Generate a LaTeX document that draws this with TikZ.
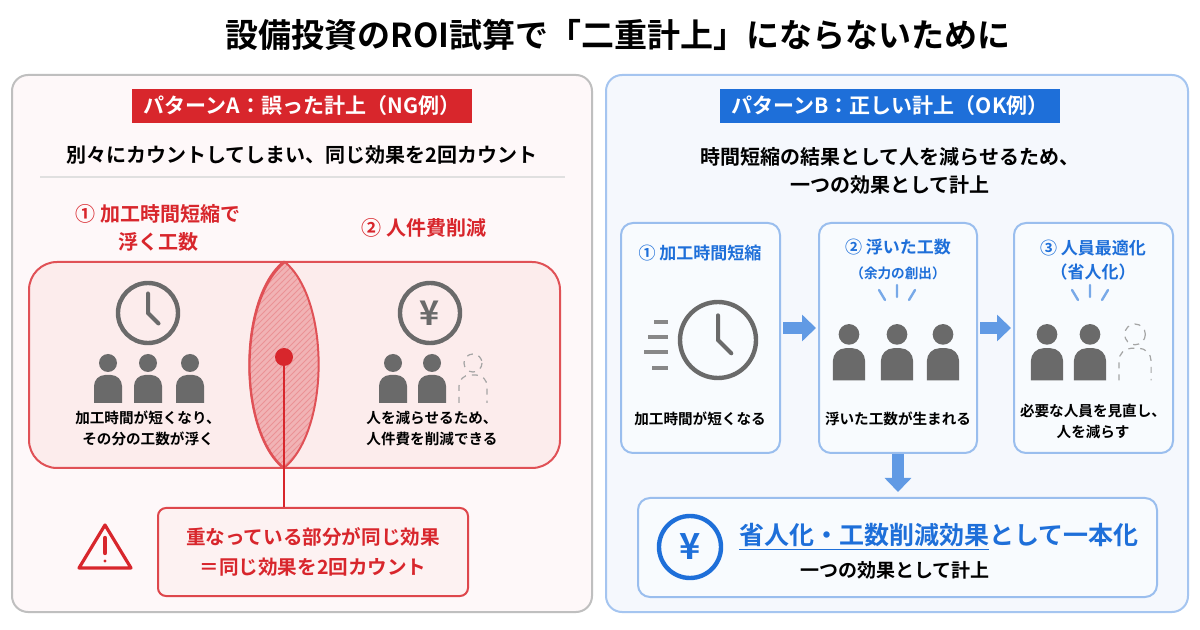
\documentclass[tikz,border=0pt]{standalone}
\usepackage{fontspec}
\setmainfont{Noto Sans CJK JP}[BoldFont={Noto Sans CJK JP Bold}]
\usetikzlibrary{positioning,patterns,arrows.meta}
\definecolor{ngred}{HTML}{D8262C}
\definecolor{ngpink}{HTML}{FCECEC}
\definecolor{okblue}{HTML}{1E6FD9}
\definecolor{okpale}{HTML}{EEF4FC}
\definecolor{icongray}{HTML}{6A6A6A}
\tikzset{
  panel/.style = {draw, rounded corners=8, line width=1},
  badge/.style = {text=white, font=\bfseries\fontsize{10.5}{12}\selectfont, minimum height=16pt, inner xsep=6pt},
  txt/.style = {font=\bfseries\fontsize{7.3}{10.5}\selectfont, align=center},
  head/.style = {font=\bfseries\fontsize{10}{14}\selectfont, align=center},
  stephead/.style = {font=\bfseries\fontsize{8.5}{12}\selectfont, align=center, text=okblue},
  stepbox/.style = {panel, draw=okblue!45, fill=white!60!okpale, rounded corners=6},
  flow/.style = {line width=6pt, okblue!70, -{Triangle[length=7pt, width=13pt]}},
  pics/person/.style = {code={
    \fill[icongray] (0,-24) circle (9);
    \fill[icongray] (-14,16) -- (-14,-1) arc[start angle=180, end angle=270, radius=11]
      -- (3,-12) arc[start angle=270, end angle=360, radius=11] -- (14,16) -- cycle;
  }},
  pics/ghost/.style = {code={
    \draw[icongray!60, dashed, line width=.6] (0,-24) circle (9);
    \draw[icongray!60, dashed, line width=.6] (-14,16) -- (-14,-1) arc[start angle=180, end angle=270, radius=11]
      -- (3,-12) arc[start angle=270, end angle=360, radius=11] -- (14,16);
  }},
  pics/clock/.style = {code={
    \draw[icongray, line width=2.2] (0,0) circle (#1);
    \draw[icongray, line width=2, line cap=round] (0,-.65*#1) -- (0,0) -- (.35*#1,.35*#1);
  }},
  pics/rays/.style = {code={
    \draw[okblue!60, line width=1.2, line cap=round] (0,-8) -- (0,-20) (-12,-5) -- (-18,-15) (12,-5) -- (18,-15);
  }}
}
\begin{document}
\begin{tikzpicture}[x=0.5pt, y=-0.5pt]
\useasboundingbox (0,0) rectangle (1200,630);
\fill[white] (0,0) rectangle (1200,630);

\node[font=\bfseries\fontsize{16.5}{18}\selectfont] (title) at (618,35) {設備投資のROI試算で「二重計上」にならないために};

% left panel
\draw[panel, draw=black!25, fill=ngred!3] (12,75) rectangle (592,612);
\node[badge, fill=ngred] (badgeA) at (302,106) {パターンA：誤った計上（NG例）};
\node[head] (subA) at (302,155) {別々にカウントしてしまい、同じ効果を2回カウント};
\draw[black!12, line width=.8] (40,177) -- (565,177);
\node[head, text=ngred] (labA) at (158,228) {① 加工時間短縮で\\浮く工数};
\node[head, text=ngred] (labB) at (424,228) {② 人件費削減};

\draw[ngred!80, line width=1, fill=ngpink, rounded corners=14] (285,262) -- (29,262) -- (29,468) -- (285,468);
\draw[ngred!80, line width=1, fill=ngpink] (285,262) .. controls (330,300) and (330,430) .. (285,468);
\draw[ngred!80, line width=1, fill=ngpink, rounded corners=14] (283,262) -- (560,262) -- (560,468) -- (283,468);
\draw[ngred!80, line width=1, fill=ngpink] (283,262) .. controls (238,300) and (238,430) .. (283,468);
\fill[ngred!35] (285,262) .. controls (330,300) and (330,430) .. (284,468) .. controls (238,430) and (238,300) .. (285,262);
\fill[pattern=north east lines, pattern color=ngred!50] (285,262) .. controls (330,300) and (330,430) .. (284,468) .. controls (238,430) and (238,300) .. (285,262);
\draw[ngred!80, line width=1] (285,262) .. controls (330,300) and (330,430) .. (284,468) .. controls (238,430) and (238,300) .. (285,262);

\pic at (148,313) {clock=30};
\foreach \x in {108,148,190} \pic at (\x,387) {person};
\node[txt] (txtA) at (148,428) {加工時間が短くなり、\\その分の工数が浮く};

\draw[icongray, line width=2.2] (430,313) circle (30);
\node[text=icongray, font=\bfseries\fontsize{17}{17}\selectfont] (yenA) at (430,313) {¥};
\foreach \x in {393,432} \pic at (\x,387) {person};
\pic at (473,387) {ghost};
\node[txt] (txtB) at (432,428) {人を減らせるため、\\人件費を削減できる};

\node[circle, fill=ngred, inner sep=0, minimum size=9pt] (dot) at (284,357) {};
\node[draw=ngred!85, fill=ngpink!70, line width=1, rounded corners=4, minimum width=155pt, minimum height=44pt,
      font=\bfseries\fontsize{9.8}{15}\selectfont, text=ngred, align=center] (callout) at (313,552)
      {重なっている部分が同じ効果\\＝同じ効果を2回カウント};
\draw[ngred, line width=1] (dot) -- (dot |- callout.north);
\draw[ngred, line width=1.6, line join=round] (105,525) -- (131,568) -- (79,568) -- cycle;
\draw[ngred, line width=2.2, line cap=round] (105,538) -- (105,553);
\fill[ngred] (105,561) circle (1.6);

% right panel
\draw[panel, draw=okblue!40, fill=okpale!60] (606,75) rectangle (1188,612);
\node[badge, fill=okblue] (badgeB) at (890,106) {パターンB：正しい計上（OK例）};
\node[head] (subB) at (890,171) {時間短縮の結果として人を減らせるため、\\一つの効果として計上};

\node[stepbox, minimum width=79.5pt, minimum height=115pt] (s1) at (700.5,338) {};
\node[stepbox, minimum width=79pt, minimum height=115pt] (s2) at (898,338) {};
\node[stepbox, minimum width=79.5pt, minimum height=115pt] (s3) at (1093.5,338) {};
\draw[flow] ([shift={(2,-10)}]s1.east) -- ([shift={(-2,-10)}]s2.west);
\draw[flow] ([shift={(2,-10)}]s2.east) -- ([shift={(-2,-10)}]s3.west);

\node[stephead] (h1) at (700,253) {① 加工時間短縮};
\node[stephead] (h2) at (898,247) {② 浮いた工数};
\node[stephead, font=\bfseries\fontsize{6.8}{8}\selectfont] (h2b) at (898,273) {（余力の創出）};
\node[stephead] (h3) at (1093,260) {③ 人員最適化\\（省人化）};

\pic at (718,340) {clock=38};
\foreach \y/\l in {322/14,337/20,352/24,368/16} \draw[icongray!80, line width=1.6] (668-\l,\y) -- (668,\y);
\node[txt] (t1) at (700,419) {加工時間が短くなる};

\foreach \x in {849,897,943} \pic[scale=1.15] at (\x,362) {person};
\pic at (897,305) {rays};
\node[txt] (t2) at (898,419) {浮いた工数が生まれる};

\foreach \x in {1047,1090} \pic[scale=1.15] at (\x,362) {person};
\pic[scale=1.15] at (1135,362) {ghost};
\pic at (1090,305) {rays};
\node[txt] (t3) at (1093,421) {必要な人員を見直し、\\人を減らす};

\node[stepbox, minimum width=259.5pt, minimum height=49.5pt] (total) at (897.5,547.5) {};
\draw[flow] (s2.south) -- ++(0,38) coordinate (a3);
\draw[okblue, line width=2.2] (690,547) circle (31);
\node[text=okblue, font=\bfseries\fontsize{18}{18}\selectfont] (yenB) at (690,547) {¥};
\node[font=\bfseries\fontsize{12.5}{14}\selectfont, text=okblue] (big) at (939,537)
  {\underline{省人化・工数削減効果}として一本化};
\node[font=\bfseries\fontsize{9.5}{12}\selectfont] (small) at (895,570) {一つの効果として計上};
\end{tikzpicture}
\end{document}
